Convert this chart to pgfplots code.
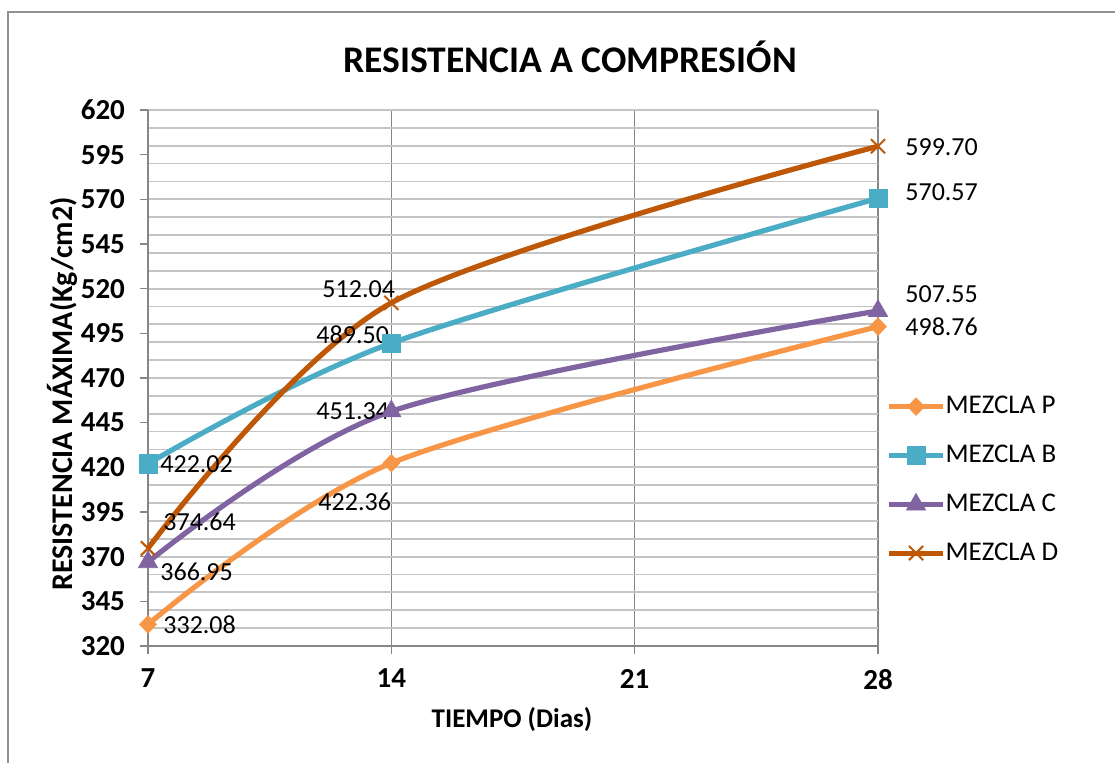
\documentclass[border=0pt]{standalone}
\usepackage{pgfplots}
\pgfplotsset{compat=1.18}
\usepackage{fontspec}
\setmainfont{Carlito}
\definecolor{cP}{RGB}{247,150,70}
\definecolor{cB}{RGB}{75,172,198}
\definecolor{cC}{RGB}{128,100,162}
\definecolor{cD}{RGB}{190,88,6}
\definecolor{gridc}{RGB}{196,196,196}
\definecolor{axc}{RGB}{134,134,134}
\begin{document}
\begin{tikzpicture}
\useasboundingbox (-74pt,-58.5pt) rectangle (483.5pt,323pt);
\draw[line width=1.2pt, color=axc!90] (-70pt,-70pt) -- (-70pt,317pt) -- (490pt,317pt);
\begin{axis}[
  at={(0,0)}, anchor=south west,
  width=365pt, height=268pt, scale only axis,
  xmin=7, xmax=28, ymin=320, ymax=620,
  xtick={7,14,21,28}, ytick={320,345,...,620},
  minor ytick={320,330,...,620},
  axis lines=left,
  axis line style={-, axc, line width=0.8pt},
  xmajorgrids=true, ymajorgrids=false, yminorgrids=true,
  major x grid style={axc, line width=0.8pt},
  minor y grid style={gridc, line width=0.9pt},
  tick align=outside, major tick length=4pt, minor tick length=0pt,
  tick style={axc, line width=0.8pt},
  /pgf/number format/assume math mode=true,
  ticklabel style={font=\fontsize{14.5}{16}\selectfont\bfseries},
  yticklabel style={xshift=-4pt},
  xticklabel style={yshift=-4pt},
  clip=false,
  legend style={at={(1.011,0.4665)}, anchor=north west, draw=none, fill=none,
    font=\fontsize{13.5}{15}\selectfont, inner sep=0pt, row sep=14pt,
    nodes={inner sep=0pt},
    /tikz/every odd column/.append style={column sep=0pt}},
  legend cell align=left,
  legend image code/.code={\draw[#1, mark repeat=2, mark phase=2] plot coordinates {(0pt,0pt) (13.5pt,0pt) (27pt,0pt)};},
]
\addplot[cP, line width=2.6pt, smooth, tension=0.5, mark=diamond*, mark size=4.4pt, mark options={solid, fill=cP, draw=cP, line width=0.3pt, xscale=1.3}] coordinates {(7,332.08) (14,422.36) (28,498.76)};
\addlegendentry{MEZCLA P}
\addplot[cB, line width=2.6pt, smooth, tension=0.5, mark=square*, mark size=4.6pt, mark options={solid, fill=cB, draw=cB, line width=0.3pt}] coordinates {(7,422.02) (14,489.50) (28,570.57)};
\addlegendentry{MEZCLA B}
\addplot[cC, line width=2.6pt, smooth, tension=0.5, mark=triangle*, mark size=5.6pt, mark options={solid, fill=cC, draw=cC, line width=0.3pt}] coordinates {(7,366.95) (14,451.34) (28,507.55)};
\addlegendentry{MEZCLA C}
\addplot[cD, line width=2.6pt, smooth, tension=0.5, mark=x, mark size=5pt, mark options={solid, draw=cD, line width=1pt}] coordinates {(7,374.64) (14,512.04) (28,599.70)};
\addlegendentry{MEZCLA D}
\begin{scope}[every node/.style={font=\fontsize{13}{15}\selectfont, inner sep=0pt}]
\node[anchor=west, xshift=7.5pt] at (axis cs:7,332.08) {332.08};
\node[anchor=east, yshift=-19.5pt] at (axis cs:14,422.36) {422.36};
\node[anchor=west, xshift=13.5pt] at (axis cs:28,498.76) {498.76};
\node[anchor=west, xshift=6pt] at (axis cs:7,422.02) {422.02};
\node[anchor=east, xshift=-1pt, yshift=4pt] at (axis cs:14,489.50) {489.50};
\node[anchor=west, xshift=13.5pt, yshift=3pt] at (axis cs:28,570.57) {570.57};
\node[anchor=west, xshift=6pt, yshift=-5pt] at (axis cs:7,366.95) {366.95};
\node[anchor=east, xshift=-1pt] at (axis cs:14,451.34) {451.34};
\node[anchor=west, xshift=13.5pt, yshift=8.5pt] at (axis cs:28,507.55) {507.55};
\node[anchor=west, xshift=7.5pt, yshift=13.5pt] at (axis cs:7,374.64) {374.64};
\node[anchor=east, xshift=2pt, yshift=7pt] at (axis cs:14,512.04) {512.04};
\node[anchor=west, xshift=13.5pt, yshift=-0.5pt] at (axis cs:28,599.70) {599.70};
\end{scope}
\end{axis}
\node[font=\fontsize{18.8}{22}\selectfont\bfseries] at (211pt,294.5pt) {RESISTENCIA A COMPRESIÓN};
\node[font=\fontsize{13.5}{15}\selectfont\bfseries] at (182pt,-37pt) {TIEMPO (Dias)};
\node[font=\fontsize{15}{17}\selectfont\bfseries, rotate=90] at (-43pt,126pt) {RESISTENCIA MÁXIMA(Kg/cm2)};
\end{tikzpicture}
\end{document}
